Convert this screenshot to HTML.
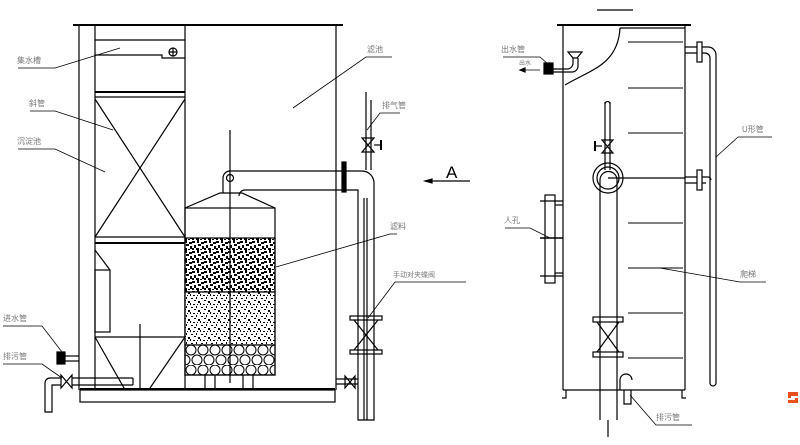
<!DOCTYPE html>
<html><head><meta charset="utf-8"><style>
html,body{margin:0;padding:0;background:#fff}
svg{display:block}
text{font-family:"Liberation Sans","Noto Sans CJK SC",sans-serif;font-size:8px;fill:#777}
</style></head><body>
<svg width="800" height="445" viewBox="0 0 800 445" xmlns="http://www.w3.org/2000/svg">
<defs>
<pattern id="coarse" width="12" height="10" patternUnits="userSpaceOnUse">
<rect width="12" height="10" fill="#fff"/>
<path d="M0 1h3v2h-3zM5 0h2v3h-2zM9 2h3v2h-3zM2 5h2v3h-2zM6 4h3v2h-3zM10 6h2v3h-2zM0 8h2v2h-2zM4 8h3v2h-3zM8 9h2v1h-2z" fill="#000"/>
</pattern>
<pattern id="fine" width="10" height="9" patternUnits="userSpaceOnUse">
<rect width="10" height="9" fill="#fff"/>
<path d="M1 1h2v1h-2zM6 0h1v2h-1zM4 3h2v1h-2zM8 4h2v2h-2zM0 6h1v2h-1zM3 7h2v1h-2zM7 7h1v1h-1z" fill="#000"/>
</pattern>
<pattern id="balls" x="185" y="345" width="12" height="20" patternUnits="userSpaceOnUse">
<rect width="12" height="20" fill="#fff"/>
<circle cx="6" cy="5" r="5" fill="none" stroke="#000" stroke-width="1"/>
<circle cx="0" cy="15" r="5" fill="none" stroke="#000" stroke-width="1"/>
<circle cx="12" cy="15" r="5" fill="none" stroke="#000" stroke-width="1"/>
</pattern>
</defs>
<g fill="none" stroke="#000" stroke-width="1.2">
<line x1="73" y1="25" x2="343" y2="25" stroke-width="2"/>
<line x1="79" y1="25" x2="79" y2="390"/>
<line x1="336" y1="25" x2="336" y2="390"/>
<line x1="95" y1="25" x2="95" y2="390"/>
<line x1="185" y1="25" x2="185" y2="390"/>
<rect x="80" y="390" width="255" height="12"/>
<line x1="80" y1="389" x2="335" y2="389" stroke-width="2"/>
<line x1="95" y1="40" x2="185" y2="40"/>
<polyline points="95,55 162,55 162,58 185,58"/>
<circle cx="173" cy="52" r="4"/><line x1="169" y1="52" x2="177" y2="52"/><line x1="173" y1="48" x2="173" y2="56"/>
<line x1="95" y1="92" x2="185" y2="92" stroke-width="2"/>
<line x1="95" y1="97" x2="185" y2="97"/>
<line x1="95" y1="99" x2="185" y2="237"/>
<line x1="185" y1="99" x2="95" y2="237"/>
<line x1="95" y1="237" x2="185" y2="237"/>
<line x1="95" y1="243" x2="185" y2="243" stroke-width="2"/>
<line x1="95" y1="250" x2="110" y2="270"/>
<rect x="95" y="270" width="15" height="62"/>
<line x1="95" y1="337" x2="185" y2="337"/>
<line x1="95" y1="337" x2="124" y2="388"/>
<line x1="185" y1="337" x2="150" y2="388"/>
<line x1="140" y1="324" x2="140" y2="390"/>
<rect x="185" y="238" width="90" height="54" fill="url(#coarse)"/>
<rect x="185" y="292" width="90" height="53" fill="url(#fine)"/>
<rect x="185" y="345" width="90" height="30" fill="url(#balls)"/>
<rect x="185" y="208" width="90" height="167"/>
<polyline points="185,208 220,193 242,193 275,208"/>
<line x1="230" y1="130" x2="230" y2="383"/>
<line x1="205" y1="375" x2="205" y2="390"/><line x1="215" y1="375" x2="215" y2="390"/>
<line x1="243" y1="375" x2="243" y2="390"/><line x1="253" y1="375" x2="253" y2="390"/>
<path d="M223,193 V178 a7,7 0 0 1 7,-7 H362 a12,12 0 0 1 12,12 V420 H358 V190 H245 a6,6 0 0 0 -6,6"/>
<circle cx="230" cy="178" r="3.5"/>
<line x1="364" y1="198" x2="364" y2="420"/><line x1="367" y1="198" x2="367" y2="420"/>
<rect x="342" y="162" width="4" height="30" fill="#000"/>
<line x1="366" y1="92" x2="366" y2="170"/><line x1="371" y1="100" x2="371" y2="170"/>
<path d="M362,138 L374,152 H362 L374,138 Z"/><line x1="374" y1="145" x2="381" y2="145"/><line x1="381" y1="140" x2="381" y2="150" stroke-width="2"/>
<rect x="350" y="316" width="32" height="4"/><rect x="350" y="350" width="32" height="4"/>
<path d="M354,320 L378,350 M378,320 L354,350"/>
<line x1="336" y1="379" x2="358" y2="379"/><line x1="336" y1="384" x2="358" y2="384"/>
<path d="M345,376 L355,388 V376 L345,388 Z"/>
<rect x="57" y="352" width="8" height="12" fill="#000"/>
<line x1="65" y1="356" x2="79" y2="356"/><line x1="65" y1="361" x2="79" y2="361"/>
<line x1="72" y1="378" x2="133" y2="378"/><line x1="72" y1="385" x2="133" y2="385"/><line x1="133" y1="378" x2="133" y2="385"/>
<path d="M61,375 L72,388 V375 L61,388 Z"/>
<path d="M61,378 H50 a5,5 0 0 0 -5,5 V412 H52 V385 H61"/>
<line x1="425" y1="181" x2="470" y2="181"/>
<path d="M425,181 l7,-2 v4 z" fill="#000"/>
<line x1="597" y1="10" x2="633" y2="10"/>
<line x1="557" y1="25" x2="691" y2="25" stroke-width="2"/>
<line x1="563" y1="25" x2="563" y2="390"/>
<line x1="685" y1="25" x2="685" y2="390"/>
<line x1="563" y1="390" x2="685" y2="390"/>
<line x1="620" y1="28" x2="685" y2="28"/>
<path d="M620,28 C618,65 590,70 565,85"/>
<g stroke-width="1"><line x1="628" y1="42" x2="683" y2="42"/><line x1="628" y1="88" x2="683" y2="88"/><line x1="628" y1="133" x2="683" y2="133"/><line x1="628" y1="223" x2="683" y2="223"/><line x1="628" y1="268" x2="683" y2="268"/><line x1="628" y1="313" x2="683" y2="313"/><line x1="628" y1="358" x2="683" y2="358"/></g>
<path d="M566,390 v8 h-4 M682,390 v8 h4"/>
<circle cx="608" cy="178" r="15"/><circle cx="608" cy="178" r="11"/>
<line x1="600" y1="180" x2="600" y2="420"/><line x1="617" y1="180" x2="617" y2="420"/>
<path d="M600,180 a8.5,8.5 0 0 1 17,0"/>
<line x1="605" y1="102" x2="605" y2="170"/><line x1="610" y1="102" x2="610" y2="170"/><path d="M605,104 a2.5,2.5 0 0 1 5,0"/>
<path d="M602,140 L613,153 H602 L613,140 Z"/><line x1="595" y1="146" x2="602" y2="146"/><line x1="595" y1="141" x2="595" y2="151" stroke-width="2"/>
<line x1="608" y1="178" x2="685" y2="178"/>
<rect x="593" y="317" width="30" height="5"/><rect x="593" y="352" width="30" height="5"/>
<path d="M597,322 L619,352 M619,322 L597,352"/>
<line x1="608" y1="420" x2="608" y2="437"/>
<path d="M620,390 v-10 a6,6 0 0 1 12,0 M624,390 v14 h7 v-14"/>
<path d="M568,52 h14 l-5,6 h-4 z"/>
<path d="M573,58 v5 a6,6 0 0 1 -6,6 H552 M578,58 v8 a6,6 0 0 1 -6,6 H552"/>
<rect x="544" y="63" width="9" height="11" fill="#000"/>
<line x1="522" y1="70" x2="540" y2="70" stroke-width="0.8"/><path d="M520,70 l5,-2 v4z" fill="#000"/>
<path d="M685,47 H708 a8,8 0 0 1 8,8 V383 a3,3 0 0 1 -6,0 V58 a5,5 0 0 0 -5,-5 H685"/>
<path d="M685,177 H708 a3,3 0 0 1 3,3 M685,183 H706"/>
<rect x="697" y="42" width="5" height="20" fill="#fff"/>
<rect x="697" y="170" width="5" height="20" fill="#fff"/>
<rect x="545" y="195" width="10" height="88"/>
<line x1="540" y1="201" x2="563" y2="201"/><line x1="540" y1="238" x2="563" y2="238" stroke-width="1.6"/><line x1="540" y1="276" x2="563" y2="276"/>
<line x1="555" y1="205" x2="563" y2="205"/><line x1="555" y1="273" x2="563" y2="273"/>
<g stroke-width="0.8">
<polyline points="18,68 55,68 120,48"/>
<polyline points="30,111 55,111 113,130"/>
<polyline points="18,149 55,149 105,172"/>
<polyline points="392,57 366,57 293,108"/>
<polyline points="400,113 380,113 367,130"/>
<polyline points="397,234 390,234 276,267"/>
<polyline points="466,282 395,282 368,318"/>
<polyline points="3,326 42,326 62,352"/>
<polyline points="3,364 42,364 62,378"/>
<polyline points="503,57 540,57 548,64"/>
<polyline points="772,137 738,137 716,157"/>
<polyline points="505,228 530,228 550,238"/>
<polyline points="766,282 740,282 660,268"/>
<polyline points="692,425 656,425 630,395"/>
</g>
</g>
<text x="17" y="63">集水槽</text>
<text x="29" y="106">斜管</text>
<text x="17" y="144">沉淀池</text>
<text x="367" y="52">滤池</text>
<text x="382" y="108">排气管</text>
<text x="390" y="229">滤料</text>
<text x="393" y="277" style="font-size:7px">手动对夹蝶阀</text>
<text x="3" y="321">进水管</text>
<text x="3" y="359">排污管</text>
<text x="446" y="178" style="font-size:17px;fill:#000">A</text>
<text x="501" y="52">出水管</text>
<text x="519" y="65" style="font-size:6px">出水</text>
<text x="742" y="132">U形管</text>
<text x="504" y="223">人孔</text>
<text x="740" y="277">爬梯</text>
<text x="656" y="420">排污管</text>
<path d="M788,392 h10 v4 h-7 v2 h7 v5 h-10 v-3 h7 v-2 h-7 z" fill="#e8501c"/>
</svg>
</body></html>
